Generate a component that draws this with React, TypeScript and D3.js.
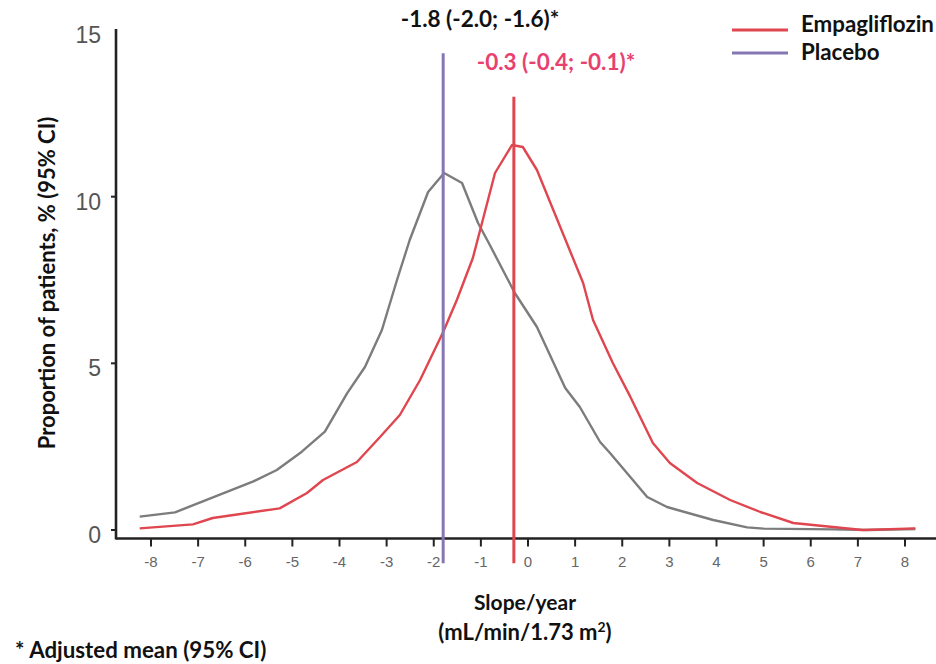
import React from 'react';
import * as d3 from 'd3';

const xTicks = [-8, -7, -6, -5, -4, -3, -2, -1, 0, 1, 2, 3, 4, 5, 6, 7, 8];
const yTicks = [0, 5, 10, 15];

const placeboX = [-8.24, -7.49, -5.84, -5.33, -4.8, -4.31, -3.84, -3.46, -3.1, -2.78, -2.51, -2.12, -1.78, -1.4, -1.06, -0.81, -0.28, 0.19, 0.79, 1.1, 1.53, 1.74, 2.53, 2.95, 3.93, 4.65, 5.0, 6.5, 7.2, 8.22];
const placeboY = [0.4, 0.53, 1.45, 1.8, 2.35, 2.95, 4.1, 4.89, 6.0, 7.5, 8.7, 10.14, 10.71, 10.41, 9.21, 8.55, 7.11, 6.09, 4.26, 3.69, 2.64, 2.31, 0.99, 0.69, 0.3, 0.08, 0.04, 0.02, 0.0, 0.03];

const empaX = [-8.24, -7.11, -6.69, -5.27, -4.69, -4.35, -3.63, -3.14, -2.72, -2.29, -1.8, -1.51, -1.17, -0.7, -0.34, -0.11, 0.19, 1.17, 1.38, 1.8, 2.17, 2.65, 3.01, 3.59, 4.29, 4.93, 5.63, 7.1, 8.22];
const empaY = [0.05, 0.17, 0.36, 0.65, 1.11, 1.5, 2.04, 2.79, 3.45, 4.5, 5.94, 6.9, 8.16, 10.71, 11.55, 11.49, 10.8, 7.41, 6.3, 5.01, 4.0, 2.61, 2.01, 1.41, 0.9, 0.54, 0.21, 0.0, 0.05];

const seriesNames = ['Empagliflozin', 'Placebo'];
const meanValues = [-0.3, -1.8];
const meanLabels = ['-0.3 (-0.4; -0.1)*', '-1.8 (-2.0; -1.6)*'];
const meanLineTops = [13.0, 14.3];

const yTitle = 'Proportion of patients, % (95% CI)';
const xTitle1 = 'Slope/year';
const footnote = '* Adjusted mean (95% CI)';

const RED = '#e0464f';
const PURPLE = '#8677b3';
const GRAY = '#7c7c7c';
const PINK = '#e8416f';
const BOLD = 'Lato, "Open Sans", sans-serif';
const TICKF = '"Liberation Sans", Arial, sans-serif';

export default function App() {
  const x = d3.scaleLinear().domain([-8, 8]).range([151, 905]);
  const y = d3.scaleLinear().domain([0, 15]).range([530, 30]);
  const line = d3.line<[number, number]>().x(d => x(d[0])).y(d => y(d[1]));
  const placebo = placeboX.map((v, i) => [v, placeboY[i]] as [number, number]);
  const empa = empaX.map((v, i) => [v, empaY[i]] as [number, number]);
  const axisY = 538.5;
  const axisX = 116;
  const colors = [RED, PURPLE];

  return (
    <svg width={936} height={664} style={{ position: 'absolute', left: 0, top: 0, background: '#fff' }}>
      {/* y axis */}
      <line x1={axisX} x2={axisX} y1={29} y2={axisY + 1} stroke="#222" strokeWidth={2.6} />
      {yTicks.filter(t => t < 15).map(t => (
        <line key={'yt' + t} x1={axisX - 5} x2={axisX} y1={y(t)} y2={y(t)} stroke="#222" strokeWidth={2} />
      ))}
      {yTicks.map(t => (
        <text key={'yl' + t} x={101} y={y(t) + 13} textAnchor="end" fontFamily={TICKF} fontSize={23} fill="#555">{t}</text>
      ))}
      {/* x axis */}
      <line x1={axisX} x2={936} y1={axisY} y2={axisY} stroke="#222" strokeWidth={2.6} />
      {xTicks.map(t => (
        <line key={'xt' + t} x1={x(t)} x2={x(t)} y1={axisY} y2={axisY + 8} stroke="#222" strokeWidth={2} />
      ))}
      {xTicks.map(t => (
        <text key={'xl' + t} x={x(t)} y={567} textAnchor="middle" fontFamily={TICKF} fontSize={15} fill="#666">{t}</text>
      ))}
      {/* curves */}
      <path d={line(placebo) || ''} fill="none" stroke={GRAY} strokeWidth={2.4} strokeLinejoin="round" />
      <path d={line(empa) || ''} fill="none" stroke={RED} strokeWidth={2.4} strokeLinejoin="round" />
      {/* mean lines */}
      {meanValues.map((m, i) => (
        <line key={'ml' + i} x1={x(m)} x2={x(m)} y1={y(meanLineTops[i])} y2={y(-1.0)} stroke={colors[i]} strokeWidth={3} />
      ))}
      <text x={480} y={27} textAnchor="middle" fontFamily={BOLD} fontWeight={700} fontSize={22.5} fill="#111">{meanLabels[1]}</text>
      <text x={556} y={70} textAnchor="middle" fontFamily={BOLD} fontWeight={700} fontSize={22.5} fill={PINK}>{meanLabels[0]}</text>
      {/* legend */}
      {seriesNames.map((n, i) => (
        <g key={'lg' + i}>
          <line x1={732} x2={788} y1={30 + i * 23} y2={30 + i * 23} stroke={colors[i]} strokeWidth={3} />
          <text x={801} y={32 + i * 28} fontFamily={BOLD} fontWeight={700} fontSize={22.3} fill="#111">{n}</text>
        </g>
      ))}
      {/* titles */}
      <text transform={`translate(55,283) rotate(-90)`} textAnchor="middle" fontFamily={BOLD} fontWeight={700} fontSize={22} fill="#111">{yTitle}</text>
      <text x={525} y={610} textAnchor="middle" fontFamily={BOLD} fontWeight={700} fontSize={21} fill="#111">{xTitle1}</text>
      <text x={525} y={640} textAnchor="middle" fontFamily={BOLD} fontWeight={700} fontSize={22} fill="#111">
        (mL/min/1.73 m<tspan dy={-8} fontSize={14}>2</tspan><tspan dy={8}>)</tspan>
      </text>
      <text x={15} y={658} fontFamily={BOLD} fontWeight={700} fontSize={22.3} fill="#111">{footnote}</text>
    </svg>
  );
}
